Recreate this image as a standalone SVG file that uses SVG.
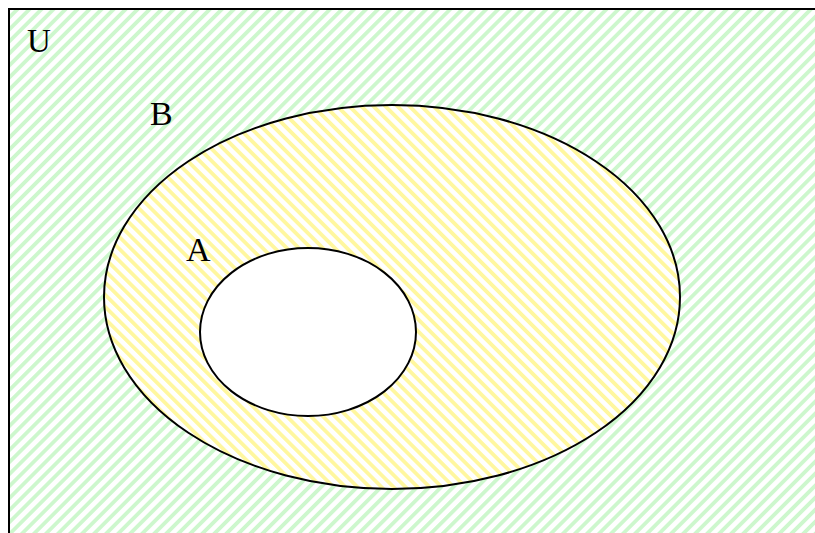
<svg xmlns="http://www.w3.org/2000/svg" width="815" height="533" viewBox="0 0 815 533">
<defs>
<pattern id="green" width="8.5" height="8.5" patternUnits="userSpaceOnUse" patternTransform="rotate(45)">
<rect width="8.5" height="8.5" fill="#ffffff"/>
<rect width="3.8" height="8.5" fill="#cdf7cd"/>
</pattern>
<pattern id="yellow" width="8.5" height="8.5" patternUnits="userSpaceOnUse" patternTransform="rotate(-45)">
<rect width="8.5" height="8.5" fill="#ffffff"/>
<rect width="3.8" height="8.5" fill="#fff79f"/>
</pattern>
</defs>
<style>
.lbl{font-family:"Liberation Serif","Times New Roman",serif;fill:#000}
.edge{fill:none;stroke:#000;stroke-width:2}
</style>
<rect width="815" height="533" fill="#fff"/>
<g id="U">
<rect x="9" y="9" width="820" height="540" fill="url(#green)"/>
<path class="edge" d="M9,540 L9,9 L820,9"/>
<text class="lbl" x="27" y="52" font-size="33">U</text>
</g>
<g id="B">
<ellipse cx="392" cy="297" rx="288" ry="192" fill="url(#yellow)" stroke="#000" stroke-width="2"/>
<text class="lbl" x="150" y="125" font-size="34">B</text>
</g>
<g id="A">
<ellipse cx="308" cy="332" rx="108" ry="84" fill="#fff" stroke="#000" stroke-width="2"/>
<text class="lbl" x="186" y="261" font-size="34">A</text>
</g>
</svg>
